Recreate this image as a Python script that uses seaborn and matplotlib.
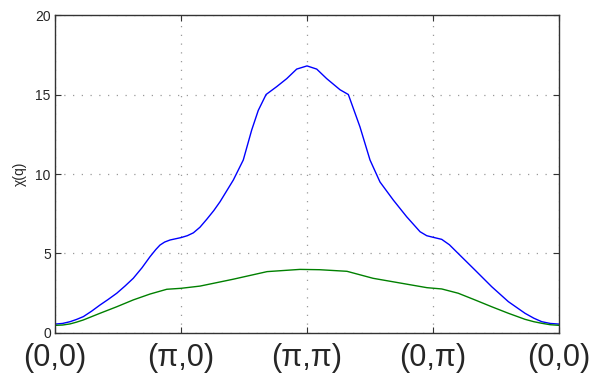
import matplotlib
matplotlib.use("Agg")
import matplotlib.pyplot as plt
import seaborn as sns
import pandas as pd

# path through the Brillouin zone: (0,0) -> (pi,0) -> (pi,pi) -> (0,pi) -> (0,0)
path_labels = ["(0,0)", "(π,0)", "(π,π)", "(0,π)", "(0,0)"]
path_ticks = [0, 1, 2, 3, 4]
y_ticks = [0, 5, 10, 15, 20]

# upper curve (blue)
q_blue = [0.0, 0.06, 0.119, 0.17, 0.225, 0.29, 0.357, 0.42, 0.49, 0.555, 0.621,
          0.69, 0.754, 0.8, 0.833, 0.87, 0.913, 1.0,
          1.05, 1.098, 1.15, 1.204, 1.26, 1.31, 1.415, 1.494, 1.561, 1.613, 1.675,
          1.76, 1.839, 1.918, 2.0, 2.077, 2.156, 2.262, 2.328, 2.42, 2.5, 2.579,
          2.685, 2.791, 2.897, 2.95, 3.0, 3.069, 3.13, 3.2, 3.333, 3.466, 3.598,
          3.73, 3.8, 3.863, 3.93, 4.0]
chi_blue = [0.56, 0.6, 0.71, 0.85, 1.03, 1.37, 1.76, 2.1, 2.5, 2.95, 3.44,
            4.1, 4.8, 5.25, 5.53, 5.72, 5.85, 6.0,
            6.12, 6.3, 6.65, 7.15, 7.7, 8.26, 9.62, 10.88, 12.77, 14.0, 15.0,
            15.5, 16.0, 16.6, 16.8, 16.6, 16.0, 15.3, 15.0, 12.97, 10.88, 9.5,
            8.36, 7.31, 6.37, 6.12, 6.02, 5.89, 5.55, 5.0, 3.96, 2.91, 1.97,
            1.24, 0.93, 0.71, 0.6, 0.56]

# lower curve (green)
q_green = [0.0, 0.06, 0.119, 0.17, 0.225, 0.357, 0.49, 0.621, 0.754, 0.887, 1.0,
           1.151, 1.413, 1.683, 1.944, 2.1, 2.317, 2.524, 2.952, 3.069, 3.2,
           3.333, 3.466, 3.598, 3.73, 3.8, 3.863, 3.93, 4.0]
chi_green = [0.48, 0.5, 0.57, 0.68, 0.82, 1.24, 1.65, 2.08, 2.45, 2.75, 2.81,
             2.95, 3.38, 3.86, 4.0, 3.98, 3.88, 3.44, 2.85, 2.77, 2.5,
             2.08, 1.65, 1.24, 0.86, 0.71, 0.61, 0.52, 0.48]

df_blue = pd.DataFrame({"q": q_blue, "chi": chi_blue})
df_green = pd.DataFrame({"q": q_green, "chi": chi_green})

sns.set_style("white")
plt.rcParams["font.family"] = ["Liberation Sans", "DejaVu Sans"]

fig = plt.figure(figsize=(6, 3.76), dpi=100)
ax = fig.add_axes([0.0917, 0.1144, 0.84, 0.8456])

sns.lineplot(data=df_blue, x="q", y="chi", color="#0000ff", linewidth=1.0, ax=ax)
sns.lineplot(data=df_green, x="q", y="chi", color="#008000", linewidth=1.0, ax=ax)

ax.set_xlim(0, 4)
ax.set_ylim(0, 20)
ax.set_xticks(path_ticks)
ax.set_xticklabels(path_labels, fontsize=22)
ax.set_yticks(y_ticks)
ax.set_yticklabels([str(v) for v in y_ticks], fontsize=10)
ax.set_xlabel("")
ax.set_ylabel("χ(q)", fontsize=10, labelpad=6)

ax.grid(True, linestyle=(0, (1, 6)), color="#999999", linewidth=0.9)
ax.tick_params(direction="in", length=4, width=0.8, top=True, right=True,
               bottom=True, left=True, color="#333333")
ax.tick_params(axis="x", pad=7)
ax.tick_params(axis="y", pad=3)
for sp in ax.spines.values():
    sp.set_color("#333333")
    sp.set_linewidth(1.0)

fig.savefig("out.png", dpi=100)
